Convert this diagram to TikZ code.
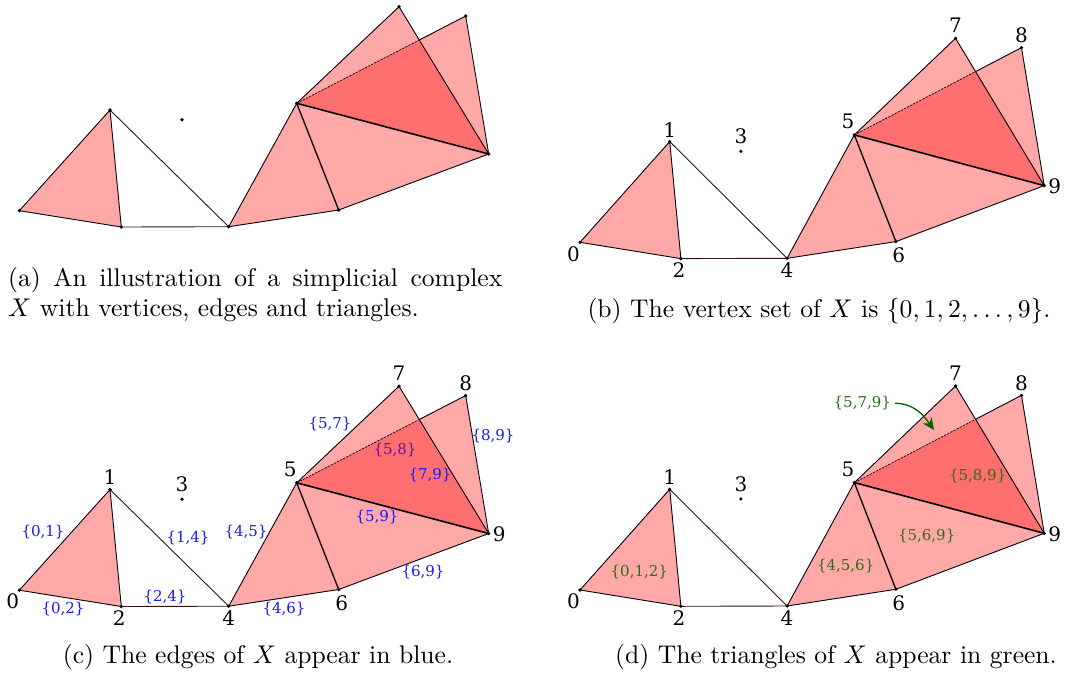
\documentclass[tikz,border=0pt]{standalone}
\usepackage{fontspec}
\usepackage{graphicx}
\newfontfamily\djs{DejaVu Serif}
\usetikzlibrary{arrows.meta}
\definecolor{eblue}{RGB}{25,25,255}
\definecolor{tgreen}{RGB}{45,110,20}
\definecolor{agreen}{RGB}{0,100,0}
\definecolor{dedge}{RGB}{50,20,20}
\newcommand\vfont{\djs\fontsize{20}{20}\selectfont}
\newcommand\efont{\djs\fontsize{15}{15}\selectfont}
\newcommand\capk{2.56}
\tikzset{
  tri/.style={fill=red, fill opacity=0.34},
  cedge/.style={draw=black, line width=0.9pt, line join=round, line cap=round},
  vlab/.style={font=\vfont, inner sep=0pt},
  elab/.style={font=\efont, text=eblue, inner sep=0pt},
  tlab/.style={font=\efont, text=tgreen, inner sep=0pt},
  capn/.style={inner sep=0pt},
  garrow/.style={draw=agreen, line width=1.3pt, -{Stealth[length=12pt,width=11pt]}},
}
\newcommand\cplx[2]{%
  \coordinate (#1v0) at (0,0);
  \coordinate (#1v1) at (90.7,-100.7);
  \coordinate (#1v2) at (102,16.3);
  \coordinate (#1v3) at (162.7,-91);
  \coordinate (#1v4) at (209.4,16);
  \coordinate (#1v5) at (277.4,-107.4);
  \coordinate (#1v6) at (319.4,-0.7);
  \coordinate (#1v7) at (379.7,-204);
  \coordinate (#1v8) at (446.4,-194.7);
  \coordinate (#1v9) at (469.4,-56.7);
  \fill[tri] (#1v0)--(#1v1)--(#1v2)--cycle;
  \fill[tri] (#1v4)--(#1v5)--(#1v6)--cycle;
  \fill[tri] (#1v5)--(#1v6)--(#1v9)--cycle;
  \fill[tri] (#1v5)--(#1v8)--(#1v9)--cycle;
  #2
  \fill[tri] (#1v5)--(#1v7)--(#1v9)--cycle;
  \coordinate (#1x) at (intersection of #1v5--#1v8 and #1v7--#1v9);
  \draw[cedge] (#1v0)--(#1v1) (#1v0)--(#1v2) (#1v1)--(#1v2)
               (#1v4)--(#1v5) (#1v4)--(#1v6) (#1v5)--(#1v7)
               (#1v6)--(#1v9) (#1v7)--(#1v9) (#1v8)--(#1v9);
  \draw[cedge, draw=dedge] (#1v1)--(#1v4) (#1v2)--(#1v4);
  \draw[cedge, line width=1.3pt] (#1v5)--(#1v6);
  \draw[cedge, line width=1.6pt] (#1v5)--(#1v9);
  \draw[cedge, line width=0.7pt, dash pattern=on 2pt off 1.5pt] (#1v5)--(#1x);
  \draw[cedge] (#1x)--(#1v8);
  \foreach \k in {0,...,9} {\fill (#1v\k) circle (1.8);}
}
\newcommand\vlabels[1]{%
  \node[vlab] (#1l0) at ([shift={(-6.5,11.5)}]#1v0) {0};
  \node[vlab] (#1l1) at ([shift={(0,-12)}]#1v1) {1};
  \node[vlab] (#1l2) at ([shift={(-2,11.5)}]#1v2) {2};
  \node[vlab] (#1l3) at ([shift={(0,-15)}]#1v3) {3};
  \node[vlab] (#1l4) at ([shift={(0,12)}]#1v4) {4};
  \node[vlab] (#1l5) at ([shift={(-6.5,-13.3)}]#1v5) {5};
  \node[vlab] (#1l6) at ([shift={(3,14)}]#1v6) {6};
  \node[vlab] (#1l7) at ([shift={(0,-13)}]#1v7) {7};
  \node[vlab] (#1l8) at ([shift={(0,-12.5)}]#1v8) {8};
  \node[vlab] (#1l9) at ([shift={(10.5,0.5)}]#1v9) {9};
}
\begin{document}
\begin{tikzpicture}[x=1pt, y=-1pt]
\useasboundingbox (0,0) rectangle (1067,675);
% (a)
\begin{scope}[shift={(19.3,210.7)}]
  \cplx{a}{}
\end{scope}
% (b)
\begin{scope}[shift={(580,242.3)}, xscale=0.989]
  \cplx{b}{}
  \vlabels{b}
\end{scope}
% (c)
\begin{scope}[shift={(19.3,590.2)}]
  \cplx{c}{\node[elab] (c-e58) at (375.7,-140.2) {\{5,8\}};}
  \vlabels{c}
\end{scope}
% (d)
\begin{scope}[shift={(580,590)}, xscale=0.989]
  \cplx{d}{}
  \vlabels{d}
\end{scope}
% edge labels (c)
\node[elab] (c-e01) at (43,532) {\{0,1\}};
\node[elab] (c-e02) at (63,609) {\{0,2\}};
\node[elab] (c-e24) at (165,597) {\{2,4\}};
\node[elab] (c-e14) at (188,538) {\{1,4\}};
\node[elab] (c-e45) at (246,532) {\{4,5\}};
\node[elab] (c-e46) at (284,609) {\{4,6\}};
\node[elab] (c-e57) at (330,424) {\{5,7\}};
\node[elab] (c-e89) at (493,436) {\{8,9\}};
\node[elab] (c-e79) at (430,475) {\{7,9\}};
\node[elab] (c-e59) at (377,517) {\{5,9\}};
\node[elab] (c-e69) at (423,572) {\{6,9\}};
% triangle labels (d)
\node[tlab] (d-t012) at (639.3,571.7) {\{0,1,2\}};
\node[tlab] (d-t456) at (845.7,566) {\{4,5,6\}};
\node[tlab] (d-t569) at (926.7,535.7) {\{5,6,9\}};
\node[tlab] (d-t589) at (977.7,476) {\{5,8,9\}};
\node[tlab] (d-t579) at (862.3,403.3) {\{5,7,9\}};
\coordinate (d-tip) at (934,430);
\draw[garrow] ([xshift=4pt]d-t579.east) to[out=0, in=125] (d-tip);
% captions
\node[capn, anchor=base west] (capa1) at (8,286.6)
  {\scalebox{\capk}{\makebox[193pt][s]{(a) An illustration of a simplicial complex}}};
\node[capn, anchor=base west] (capa2) at (8,316.7)
  {\scalebox{\capk}{$X$ with vertices, edges and triangles.}};
\node[capn, anchor=base] (capb) at (819,317)
  {\scalebox{\capk}{(b) The vertex set of $X$ is $\{0,1,2,\ldots,9\}$.}};
\node[capn, anchor=base] (capc) at (258,663)
  {\scalebox{\capk}{(c) The edges of $X$ appear in blue.}};
\node[capn, anchor=base] (capd) at (836,663)
  {\scalebox{\capk}{(d) The triangles of $X$ appear in green.}};
\end{tikzpicture}
\end{document}
